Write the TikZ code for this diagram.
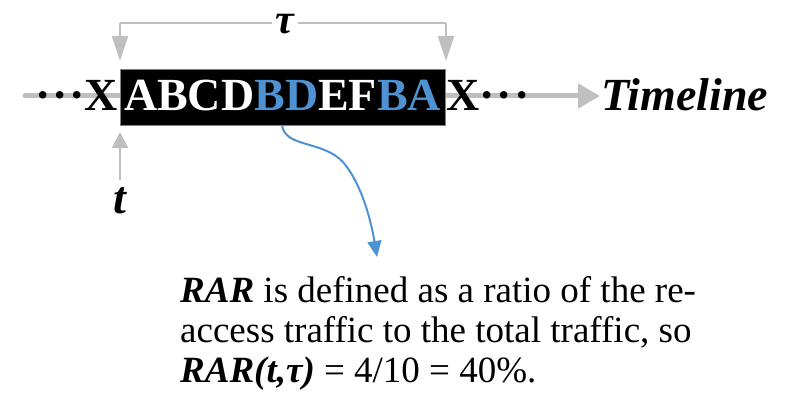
\documentclass[tikz,border=0pt]{standalone}
\usepackage{fontspec}
\setmainfont{Liberation Serif}
\usetikzlibrary{arrows.meta}
\definecolor{accblue}{RGB}{79,146,210}
\definecolor{lgray}{RGB}{191,191,191}
\tikzset{
  big/.style={font=\fontsize{46}{46}\selectfont\bfseries, inner sep=0pt, anchor=base},
  bodytxt/.style={font=\fontsize{37}{40}\selectfont, inner sep=0pt, anchor=base west},
  grayarrow/.style={draw=lgray, line width=2pt, -{Triangle[length=25pt,width=16pt,fill=lgray]}},
  blueline/.style={draw=accblue, line width=2pt, -{Triangle[length=16pt,width=14pt,fill=accblue]}},
}
\begin{document}
\begin{tikzpicture}[x=1pt,y=-1pt]
\useasboundingbox (0,0) rectangle (800,395);
% timeline
\coordinate (tl0) at (25,96);
\coordinate (tl1) at (600,96);
\draw[draw=lgray, line width=5pt, line cap=round, -{Triangle[length=22pt,width=24pt,fill=lgray]}] (tl0) -- (tl1);
% window box
\node[fill=black, draw=gray, line width=0.5pt, minimum width=325pt, minimum height=56pt, inner sep=0pt] (box) at (282.5,97) {};
\node[big, text=white] (seq) at (282.5,111) {ABCD\textcolor{accblue}{BD}EF\textcolor{accblue}{BA}};
\node[big, anchor=base east] (lx) at (118.5,111) {·\kern2pt·\kern2pt·X};
\node[big, anchor=base west] (rx) at (446,111) {X·\kern2pt·\kern2pt·};
\node[big, anchor=base west, font=\fontsize{46}{46}\selectfont\bfseries\itshape] (tline) at (601,111) {Timeline};
% tau bracket
\coordinate (bl) at (120,23);
\coordinate (br) at (446,23);
\coordinate (al) at (120,61);
\coordinate (ar) at (446,61);
\draw[draw=lgray, line width=2pt] (bl) -- (br);
\draw[grayarrow] (br) -- (ar);
\draw[grayarrow] (bl) -- (al);
\node[fill=white, inner xsep=4pt, inner ysep=0pt, font=\fontsize{42}{42}\selectfont\bfseries\itshape] (tau) at (285,24) {τ};
% t arrow
\coordinate (tt) at (120,180);
\coordinate (th) at (120,132);
\draw[grayarrow, -{Triangle[length=16pt,width=16pt,fill=lgray]}] (tt) -- (th);
\node[big, font=\fontsize{46}{46}\selectfont\bfseries\itshape] (t) at (120,214) {t};
% blue curve
\coordinate (bs) at (282,125);
\coordinate (be) at (377,257);
\draw[blueline] (bs) .. controls (285,148) and (322,140) .. (343,162) .. controls (360,182) and (370,215) .. (be);
% text
\node[bodytxt] (l1) at (180,302) {\textbf{\textit{RAR}} is defined as a ratio of the re-};
\node[bodytxt] (l2) at (180,342) {access traffic to the total traffic, so};
\node[bodytxt] (l3) at (180,382) {\textbf{\textit{RAR(t,τ)}} = 4/10 = 40\%.};
\end{tikzpicture}
\end{document}
